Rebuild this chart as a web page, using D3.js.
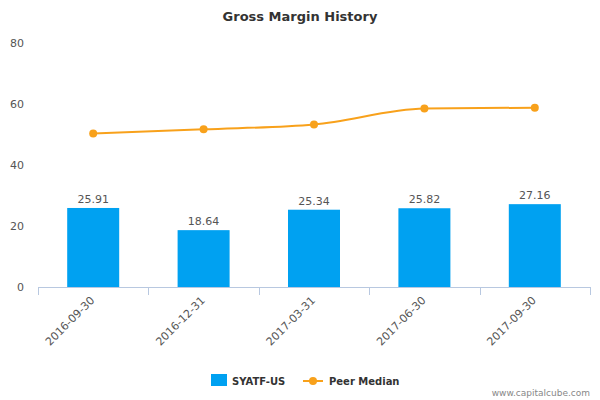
<!DOCTYPE html>
<html><head><meta charset="utf-8">
<script src="https://cdn.jsdelivr.net/npm/d3@7"></script>
<style>body{margin:0;background:#fff;font-family:"DejaVu Sans",sans-serif}</style>
</head><body><svg id="chart" width="600" height="400"></svg>
<script>
var categories = ["2016-09-30","2016-12-31","2017-03-31","2017-06-30","2017-09-30"];
var companyValues = [25.91, 18.64, 25.34, 25.82, 27.16];
var peerValues = [50.3, 51.7, 53.3, 58.5, 58.8];
var yTicks = [0, 20, 40, 60, 80];

var svg = d3.select("#chart");
var plotLeft = 38, plotRight = 590, plotTop = 43, plotBottom = 287;

var x = d3.scaleBand().domain(categories).range([plotLeft, plotRight]);
var y = d3.scaleLinear().domain([0, 80]).range([plotBottom, plotTop]);

svg.append("text").attr("x", 300).attr("y", 21).attr("text-anchor", "middle")
    .style("font-size", "13px").style("font-weight", "bold").style("fill", "#333")
    .text("Gross Margin History");

// y axis labels
svg.selectAll(".ylab").data(yTicks).enter().append("text")
    .attr("x", 24).attr("y", d => y(d) + 4).attr("text-anchor", "end")
    .style("font-size", "11px").style("fill", "#555").text(d => d);

// x axis
svg.append("line").attr("x1", plotLeft).attr("x2", plotRight).attr("y1", plotBottom + 0.5).attr("y2", plotBottom + 0.5)
    .style("stroke", "#b8c8e0");
var ticks = categories.map(c => x(c)).concat([plotRight]);
svg.selectAll(".tick").data(ticks).enter().append("line")
    .attr("x1", d => Math.round(d) + 0.5).attr("x2", d => Math.round(d) + 0.5)
    .attr("y1", plotBottom).attr("y2", plotBottom + 8).style("stroke", "#b8c8e0");

svg.selectAll(".xlab").data(categories).enter().append("text")
    .attr("transform", d => "translate(" + (x(d) + x.bandwidth() / 2 + 2) + "," + (plotBottom + 14) + ") rotate(-45)")
    .attr("text-anchor", "end").style("font-size", "11px").style("fill", "#555").text(d => d);

// bars
var bw = 52;
svg.selectAll(".bar").data(companyValues).enter().append("rect")
    .attr("x", (d, i) => x(categories[i]) + x.bandwidth() / 2 - bw / 2)
    .attr("y", d => y(d)).attr("width", bw).attr("height", d => plotBottom - y(d))
    .style("fill", "#00a1f1");
svg.selectAll(".blab").data(companyValues).enter().append("text")
    .attr("x", (d, i) => x(categories[i]) + x.bandwidth() / 2)
    .attr("y", d => y(d) - 5).attr("text-anchor", "middle")
    .style("font-size", "11px").style("fill", "#555").text(d => d.toFixed(2));

// peer line
var line = d3.line().x((d, i) => x(categories[i]) + x.bandwidth() / 2).y(d => y(d)).curve(d3.curveMonotoneX);
svg.append("path").datum(peerValues).attr("d", line)
    .style("fill", "none").style("stroke", "#f8a11b").style("stroke-width", 2);
svg.selectAll(".pt").data(peerValues).enter().append("circle")
    .attr("cx", (d, i) => x(categories[i]) + x.bandwidth() / 2).attr("cy", d => y(d)).attr("r", 4)
    .style("fill", "#f8a11b");

// legend
svg.append("rect").attr("x", 211).attr("y", 374).attr("width", 16).attr("height", 12).style("fill", "#00a1f1");
svg.append("text").attr("x", 232).attr("y", 385).style("font-size", "10px").style("font-weight", "bold")
    .style("fill", "#333").text("SYATF-US");
svg.append("line").attr("x1", 303).attr("x2", 323).attr("y1", 381).attr("y2", 381).style("stroke", "#f8a11b").style("stroke-width", 2);
svg.append("circle").attr("cx", 313).attr("cy", 381).attr("r", 4).style("fill", "#f8a11b");
svg.append("text").attr("x", 329).attr("y", 385).style("font-size", "10px").style("font-weight", "bold")
    .style("fill", "#333").text("Peer Median");

svg.append("text").attr("x", 590).attr("y", 396).attr("text-anchor", "end")
    .style("font-size", "9px").style("fill", "#888").text("www.capitalcube.com");
</script></body></html>
